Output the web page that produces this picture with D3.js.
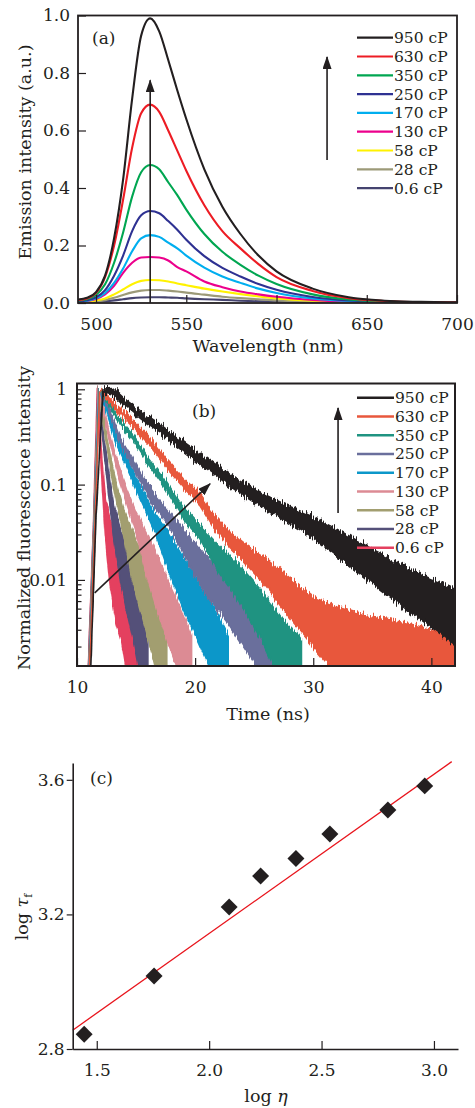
<!DOCTYPE html>
<html>
<head>
<meta charset="utf-8">
<script src="https://cdn.jsdelivr.net/npm/d3@7"></script>
<style>
  body { margin: 0; background: #fff; }
  svg text { font-family: "DejaVu Serif", serif; fill: #231f20; }
</style>
</head>
<body>
<div class="figure"></div>
<script>
// ---------- data ----------
const viscosityLabels = ["950 cP", "630 cP", "350 cP", "250 cP", "170 cP", "130 cP", "58 cP", "28 cP", "0.6 cP"];

// (a) emission spectra
const wavelength = [490, 495, 500, 505, 510, 515, 520, 525, 530, 535, 540, 545, 550, 560, 570, 580, 590, 600, 620, 640, 660, 680, 700];
const emission950 = [0.012, 0.018, 0.038, 0.095, 0.225, 0.43, 0.71, 0.93, 0.99, 0.945, 0.845, 0.74, 0.64, 0.465, 0.335, 0.24, 0.165, 0.11, 0.05, 0.02, 0.008, 0.004, 0.002];
const emission630 = [0.01, 0.016, 0.035, 0.09, 0.2, 0.36, 0.54, 0.66, 0.69, 0.665, 0.6, 0.53, 0.46, 0.34, 0.25, 0.19, 0.135, 0.09, 0.042, 0.017, 0.007, 0.003, 0.002];
const emission350 = [0.008, 0.013, 0.028, 0.065, 0.14, 0.245, 0.37, 0.455, 0.48, 0.465, 0.42, 0.375, 0.325, 0.24, 0.178, 0.133, 0.095, 0.066, 0.03, 0.012, 0.005, 0.002, 0.001];
const emission250 = [0.006, 0.01, 0.02, 0.045, 0.095, 0.165, 0.25, 0.305, 0.32, 0.312, 0.285, 0.255, 0.22, 0.163, 0.122, 0.092, 0.066, 0.046, 0.021, 0.009, 0.004, 0.002, 0.001];
const emission170 = [0.005, 0.008, 0.016, 0.035, 0.07, 0.12, 0.18, 0.225, 0.236, 0.23, 0.21, 0.19, 0.165, 0.123, 0.092, 0.07, 0.05, 0.035, 0.016, 0.007, 0.003, 0.001, 0.001];
const emission130 = [0.004, 0.007, 0.014, 0.03, 0.06, 0.105, 0.14, 0.158, 0.16, 0.158, 0.148, 0.125, 0.11, 0.075, 0.055, 0.04, 0.03, 0.022, 0.011, 0.005, 0.002, 0.001, 0.001];
const emission58 = [0.003, 0.005, 0.009, 0.016, 0.03, 0.047, 0.065, 0.077, 0.08, 0.079, 0.075, 0.068, 0.062, 0.05, 0.04, 0.031, 0.023, 0.016, 0.008, 0.004, 0.002, 0.001, 0.001];
const emission28 = [0.002, 0.003, 0.005, 0.01, 0.018, 0.028, 0.037, 0.043, 0.045, 0.045, 0.043, 0.04, 0.036, 0.029, 0.022, 0.017, 0.013, 0.009, 0.005, 0.002, 0.001, 0.001, 0];
const emission06 = [0.002, 0.003, 0.004, 0.006, 0.009, 0.013, 0.017, 0.019, 0.02, 0.02, 0.019, 0.018, 0.016, 0.013, 0.011, 0.008, 0.006, 0.005, 0.003, 0.002, 0.001, 0.001, 0];

// (b) decays: [time ns, lower edge, upper edge] of each noisy trace
const decay950 = [[11.17,0.0012,0.0012],[11.6,0.043,0.043],[12.2,0.92,1.03],[13.0,0.87,1.04],[14.0,0.67,0.8],[15.5,0.47,0.575],[17.0,0.352,0.432],[18.3,0.259,0.325],[20.9,0.15,0.193],[23.7,0.0825,0.11],[26.5,0.05,0.072],[29.6,0.03,0.048],[32.2,0.017,0.033],[35.0,0.0092,0.021],[38.0,0.0048,0.0135],[40.0,0.0032,0.0102],[42.0,0.0021,0.008]];
const decay630 = [[11.07,0.0012,0.0012],[11.52,0.04,0.04],[11.92,1,1],[12.8,0.708,0.794],[14.7,0.406,0.477],[16.0,0.274,0.329],[17.5,0.153,0.189],[19.0,0.0936,0.118],[20.4,0.0617,0.0795],[21.5,0.037,0.0499],[23.0,0.0216,0.0313],[24.0,0.0163,0.0246],[26.0,0.0085,0.017],[28.0,0.004,0.0105],[30.0,0.002,0.0066],[32.0,0.001,0.0052],[34.0,0.0007,0.0044],[36.0,0.0007,0.0039],[38.0,0.0007,0.0035],[40.0,0.0007,0.003],[42.0,0.0007,0.0027]];
const decay350 = [[11.06,0.0012,0.0012],[11.5,0.04,0.04],[11.9,1,1],[12.7,0.669,0.733],[13.7,0.425,0.477],[14.7,0.298,0.343],[16.0,0.166,0.195],[17.5,0.0902,0.111],[19.0,0.0436,0.0574],[20.4,0.0272,0.0376],[22.0,0.012,0.023],[23.7,0.006,0.0145],[25.5,0.0025,0.008],[27.4,0.0008,0.0038],[28.5,0.0005,0.0028],[29.0,0.0004,0.0023]];
const decay250 = [[11.05,0.0012,0.0012],[11.5,0.04,0.04],[11.88,1,1],[12.6,0.614,0.688],[13.6,0.277,0.325],[14.7,0.153,0.189],[16.3,0.0653,0.0861],[18.0,0.0333,0.0481],[19.8,0.012,0.026],[21.3,0.006,0.016],[22.8,0.0035,0.0115],[24.2,0.0019,0.0072],[25.6,0.001,0.0047],[26.9,0.0005,0.0031],[27.4,0.0004,0.0024]];
const decay170 = [[11.04,0.0012,0.0012],[11.48,0.04,0.04],[11.85,1,1],[12.5,0.567,0.635],[13.3,0.274,0.329],[14.3,0.143,0.18],[15.4,0.068,0.094],[16.6,0.0318,0.0504],[17.8,0.012,0.031],[19.0,0.005,0.017],[20.3,0.0022,0.009],[21.8,0.0008,0.0046],[22.8,0.0004,0.0026]];
const decay130 = [[11.02,0.0012,0.0012],[11.46,0.04,0.04],[11.82,1,1],[12.3,0.513,0.59],[12.9,0.246,0.296],[13.5,0.122,0.161],[14.2,0.0624,0.0902],[15.0,0.0311,0.0515],[15.9,0.011,0.031],[16.8,0.0048,0.018],[17.9,0.0019,0.0088],[19.1,0.0007,0.0041],[19.7,0.0004,0.0026]];
const decay58 = [[11.0,0.0012,0.0012],[11.44,0.04,0.04],[11.8,1,1],[12.1,0.56,0.643],[12.5,0.267,0.337],[12.9,0.128,0.176],[13.4,0.0596,0.0944],[13.95,0.029,0.0552],[14.6,0.011,0.035],[15.4,0.0046,0.019],[16.2,0.002,0.0098],[17.1,0.0007,0.0043],[17.6,0.0004,0.0026]];
const decay28 = [[10.97,0.0012,0.0012],[11.42,0.04,0.04],[11.78,1,1],[12.0,0.502,0.603],[12.3,0.213,0.294],[12.7,0.0759,0.132],[13.1,0.0284,0.0621],[13.7,0.0095,0.033],[14.3,0.0043,0.02],[14.9,0.002,0.011],[15.6,0.0007,0.0044],[16.0,0.0004,0.0026]];
const decay06 = [[10.95,0.0012,0.0012],[11.4,0.04,0.04],[11.72,1,1],[11.9,0.357,0.449],[12.1,0.119,0.189],[12.4,0.0284,0.0713],[12.8,0.009,0.043],[13.3,0.0036,0.022],[13.8,0.0022,0.0135],[14.3,0.0009,0.0055],[14.8,0.0005,0.0032],[15.2,0.0004,0.0019]];

// (c) log tau vs log eta, with the drawn fit line ends
const logEta = [1.444, 1.755, 2.089, 2.229, 2.386, 2.537, 2.795, 2.959];
const logTau = [2.844, 3.017, 3.222, 3.314, 3.366, 3.439, 3.510, 3.582];
const fitEta = [1.393, 3.079];
const fitTau = [2.856, 3.654];

// ticks
const ticksAx = [500, 550, 600, 650, 700];
const ticksAy = [0, 0.2, 0.4, 0.6, 0.8, 1.0];
const ticksBx = [10, 20, 30, 40];
const ticksBy = [1, 0.1, 0.01];
const ticksCx = [1.5, 2.0, 2.5, 3.0];
const ticksCy = [2.8, 3.2, 3.6];

// arrows [x0, y0, x1, y1] in data units
const arrowA = [530, 0, 530, 0.775];
const arrowALegend = [628, 0.497, 628, 0.856];
const arrowB = [11.5, 0.0073, 21.27, 0.102];
const arrowBLegend = [32.1, 0.0503, 32.1, 0.637];

// ---------- styles ----------
const ink = "#231f20";
const colorsA = ["#231f20", "#ed1c24", "#00a651", "#2e3192", "#00aeef", "#ec008c", "#fff200", "#9c9a78", "#45436f"];
const colorsB = ["#231f20", "#e8573c", "#1f9381", "#6a6f9c", "#0c97c9", "#dc8b94", "#a29e70", "#545079", "#e4405f"];

const spectra = [emission950, emission630, emission350, emission250, emission170, emission130, emission58, emission28, emission06];
const decays = [decay950, decay630, decay350, decay250, decay170, decay130, decay58, decay28, decay06];

const width = 475, height = 1108;
const svg = d3.select(".figure").append("svg")
  .attr("width", width).attr("height", height);

const defs = svg.append("defs");
defs.append("marker")
  .attr("id", "head")
  .attr("markerUnits", "userSpaceOnUse")
  .attr("markerWidth", 13).attr("markerHeight", 9)
  .attr("refX", 12).attr("refY", 4.5)
  .attr("orient", "auto")
  .append("path").attr("d", "M0,0 L13,4.5 L0,9 Z").attr("fill", ink);

// jagged edge look for the photon-counting traces
const jag = defs.append("filter").attr("id", "jag")
  .attr("x", "-2%").attr("y", "-5%").attr("width", "104%").attr("height", "110%")
  .attr("color-interpolation-filters", "sRGB");
jag.append("feTurbulence").attr("type", "fractalNoise")
  .attr("baseFrequency", "0.9 0.04").attr("numOctaves", 2).attr("seed", 7).attr("result", "noise");
jag.append("feColorMatrix").attr("in", "noise").attr("type", "matrix")
  .attr("values", "0 0 0 0 0.5  0 1 0 0 0  0 0 0 0 0  0 0 0 0 1").attr("result", "shift");
jag.append("feDisplacementMap").attr("in", "SourceGraphic").attr("in2", "shift")
  .attr("scale", 13).attr("xChannelSelector", "R").attr("yChannelSelector", "G");

function styleAxis(g, size) {
  g.attr("font-family", null).attr("font-size", null).attr("color", ink);
  g.selectAll("text").style("font-size", size + "px");
  g.selectAll("line").attr("stroke-width", 1.2);
}

function arrow(g, x, y, a) {
  g.append("line")
    .attr("x1", x(a[0])).attr("y1", y(a[1]))
    .attr("x2", x(a[2])).attr("y2", y(a[3]))
    .attr("stroke", ink).attr("stroke-width", 1.6)
    .attr("marker-end", "url(#head)");
}

function legend(g, x0, x1, top, step, colors, lw) {
  const rows = g.append("g").selectAll("g")
    .data(viscosityLabels).enter().append("g")
    .attr("transform", (d, i) => `translate(0,${top + step * i})`);
  rows.append("line")
    .attr("x1", x0).attr("x2", x1)
    .attr("stroke", (d, i) => colors[i]).attr("stroke-width", lw);
  rows.append("text")
    .attr("x", x1 + 1).attr("y", 5.5)
    .style("font-size", "15.5px")
    .text(d => d);
}

/* ------------------------------ (a) ------------------------------ */
const xA = d3.scaleLinear().domain([490, 700]).range([78, 457]);
const yA = d3.scaleLinear().domain([0, 1]).range([303, 15.5]);

defs.append("clipPath").attr("id", "clipA").append("rect")
  .attr("x", 78).attr("y", 15.5).attr("width", 379).attr("height", 287.5);

const lineA = d3.line()
  .x((d, i) => xA(wavelength[i]))
  .y(d => yA(d))
  .curve(d3.curveMonotoneX);

const curvesA = svg.append("g").attr("clip-path", "url(#clipA)");
curvesA.selectAll("path")
  .data(spectra.slice().reverse())
  .enter().append("path")
  .attr("d", lineA)
  .attr("fill", "none")
  .attr("stroke", (d, i) => colorsA[spectra.length - 1 - i])
  .attr("stroke-width", 2.1);

svg.append("g").attr("transform", "translate(0,303)")
  .call(d3.axisBottom(xA).tickValues(ticksAx).tickSize(-8).tickSizeOuter(0).tickPadding(15))
  .call(g => g.select(".domain").remove())
  .call(g => styleAxis(g, 17));
svg.append("g").attr("transform", "translate(78,0)")
  .call(d3.axisLeft(yA).tickValues(ticksAy).tickFormat(d3.format(".1f")).tickSize(-8).tickSizeOuter(0).tickPadding(8))
  .call(g => g.select(".domain").remove())
  .call(g => styleAxis(g, 17));

svg.append("rect").attr("x", 78).attr("y", 15.5).attr("width", 379).attr("height", 287.5)
  .attr("fill", "none").attr("stroke", ink).attr("stroke-width", 1.8);

arrow(svg, xA, yA, arrowA);
arrow(svg, xA, yA, arrowALegend);
legend(svg, 357, 393, 37.7, 18.8, colorsA, 2.2);

svg.append("text").attr("x", 92).attr("y", 44).style("font-size", "17px").text("(a)");
svg.append("text").attr("transform", "translate(31,152) rotate(-90)")
  .attr("text-anchor", "middle").style("font-size", "17.5px").text("Emission intensity (a.u.)");
svg.append("text").attr("x", 268).attr("y", 352)
  .attr("text-anchor", "middle").style("font-size", "17.5px").text("Wavelength (nm)");

/* ------------------------------ (b) ------------------------------ */
const xB = d3.scaleLinear().domain([10, 42]).range([77, 455]);
const yB = d3.scaleLog().domain([0.00125, 1.15]).range([666, 383.5]);

defs.append("clipPath").attr("id", "clipB").append("rect")
  .attr("x", 77).attr("y", 383.5).attr("width", 378).attr("height", 282.5);

const bandB = d3.area()
  .x(d => xB(d[0]))
  .y0(d => yB(d[1]))
  .y1(d => yB(d[2]));

const tracesB = svg.append("g").attr("clip-path", "url(#clipB)")
  .append("g").attr("filter", "url(#jag)");
tracesB.selectAll("path")
  .data(decays.slice().reverse())
  .enter().append("path")
  .attr("d", bandB)
  .attr("fill", (d, i) => colorsB[decays.length - 1 - i])
  .attr("stroke", (d, i) => colorsB[decays.length - 1 - i])
  .attr("stroke-width", 1.6)
  .attr("stroke-linejoin", "round");

const minorB = yB.ticks().filter(v => !ticksBy.includes(v));
svg.append("g").attr("transform", "translate(77,0)")
  .call(d3.axisLeft(yB).tickValues(minorB).tickSize(-4.5).tickSizeOuter(0).tickFormat(""))
  .call(g => g.select(".domain").remove())
  .call(g => styleAxis(g, 17));
svg.append("g").attr("transform", "translate(77,0)")
  .call(d3.axisLeft(yB).tickValues(ticksBy).tickFormat(d => String(d)).tickSize(-8).tickSizeOuter(0).tickPadding(10))
  .call(g => g.select(".domain").remove())
  .call(g => styleAxis(g, 17));
svg.append("g").attr("transform", "translate(0,666)")
  .call(d3.axisBottom(xB).tickValues(ticksBx).tickSize(-8).tickSizeOuter(0).tickPadding(15))
  .call(g => g.select(".domain").remove())
  .call(g => styleAxis(g, 17));

svg.append("rect").attr("x", 77).attr("y", 383.5).attr("width", 378).attr("height", 282.5)
  .attr("fill", "none").attr("stroke", ink).attr("stroke-width", 2);

arrow(svg, xB, yB, arrowB);
arrow(svg, xB, yB, arrowBLegend);
legend(svg, 357, 394, 397.7, 18.75, colorsB, 2.4);

svg.append("text").attr("x", 192).attr("y", 417).style("font-size", "17px").text("(b)");
svg.append("text").attr("transform", "translate(30,518) rotate(-90)")
  .attr("text-anchor", "middle").style("font-size", "17.5px").text("Normalized fluorescence intensity");
svg.append("text").attr("x", 268).attr("y", 720)
  .attr("text-anchor", "middle").style("font-size", "17.5px").text("Time (ns)");

/* ------------------------------ (c) ------------------------------ */
const xC = d3.scaleLinear().domain([1.393, 3.107]).range([72.7, 458]);
const yC = d3.scaleLinear().domain([2.8, 3.65]).range([1049, 763]);

svg.append("line")
  .attr("x1", xC(fitEta[0])).attr("y1", yC(fitTau[0]))
  .attr("x2", xC(fitEta[1])).attr("y2", yC(fitTau[1]))
  .attr("stroke", "#e8141c").attr("stroke-width", 1.3);

svg.append("g").selectAll("path")
  .data(logEta).enter().append("path")
  .attr("d", d3.symbol(d3.symbolSquare, 144))
  .attr("transform", (d, i) => `translate(${xC(d)},${yC(logTau[i])}) rotate(45)`)
  .attr("fill", ink);

svg.append("g").attr("transform", "translate(0,1049)")
  .call(d3.axisBottom(xC).tickValues(ticksCx).tickFormat(d3.format(".1f")).tickSize(-8).tickSizeOuter(0).tickPadding(15))
  .call(g => styleAxis(g, 17))
  .call(g => g.select(".domain").attr("stroke-width", 1.6));
svg.append("g").attr("transform", "translate(72.7,0)")
  .call(d3.axisLeft(yC).tickValues(ticksCy).tickFormat(d3.format(".1f")).tickSize(6).tickSizeOuter(0).tickPadding(2))
  .call(g => styleAxis(g, 17))
  .call(g => g.select(".domain").attr("stroke-width", 1.6));

svg.append("text").attr("x", 90).attr("y", 784).style("font-size", "17px").text("(c)");

const tauLabel = svg.append("text").attr("transform", "translate(28,917) rotate(-90)")
  .attr("text-anchor", "middle").style("font-size", "17.5px");
tauLabel.append("tspan").text("log ");
tauLabel.append("tspan").style("font-style", "italic").text("τ");
tauLabel.append("tspan").attr("dy", 4).style("font-size", "11px").text("f");

const etaLabel = svg.append("text").attr("x", 266).attr("y", 1102)
  .attr("text-anchor", "middle").style("font-size", "17.5px");
etaLabel.append("tspan").text("log ");
etaLabel.append("tspan").style("font-style", "italic").text("η");
</script>
</body>
</html>
